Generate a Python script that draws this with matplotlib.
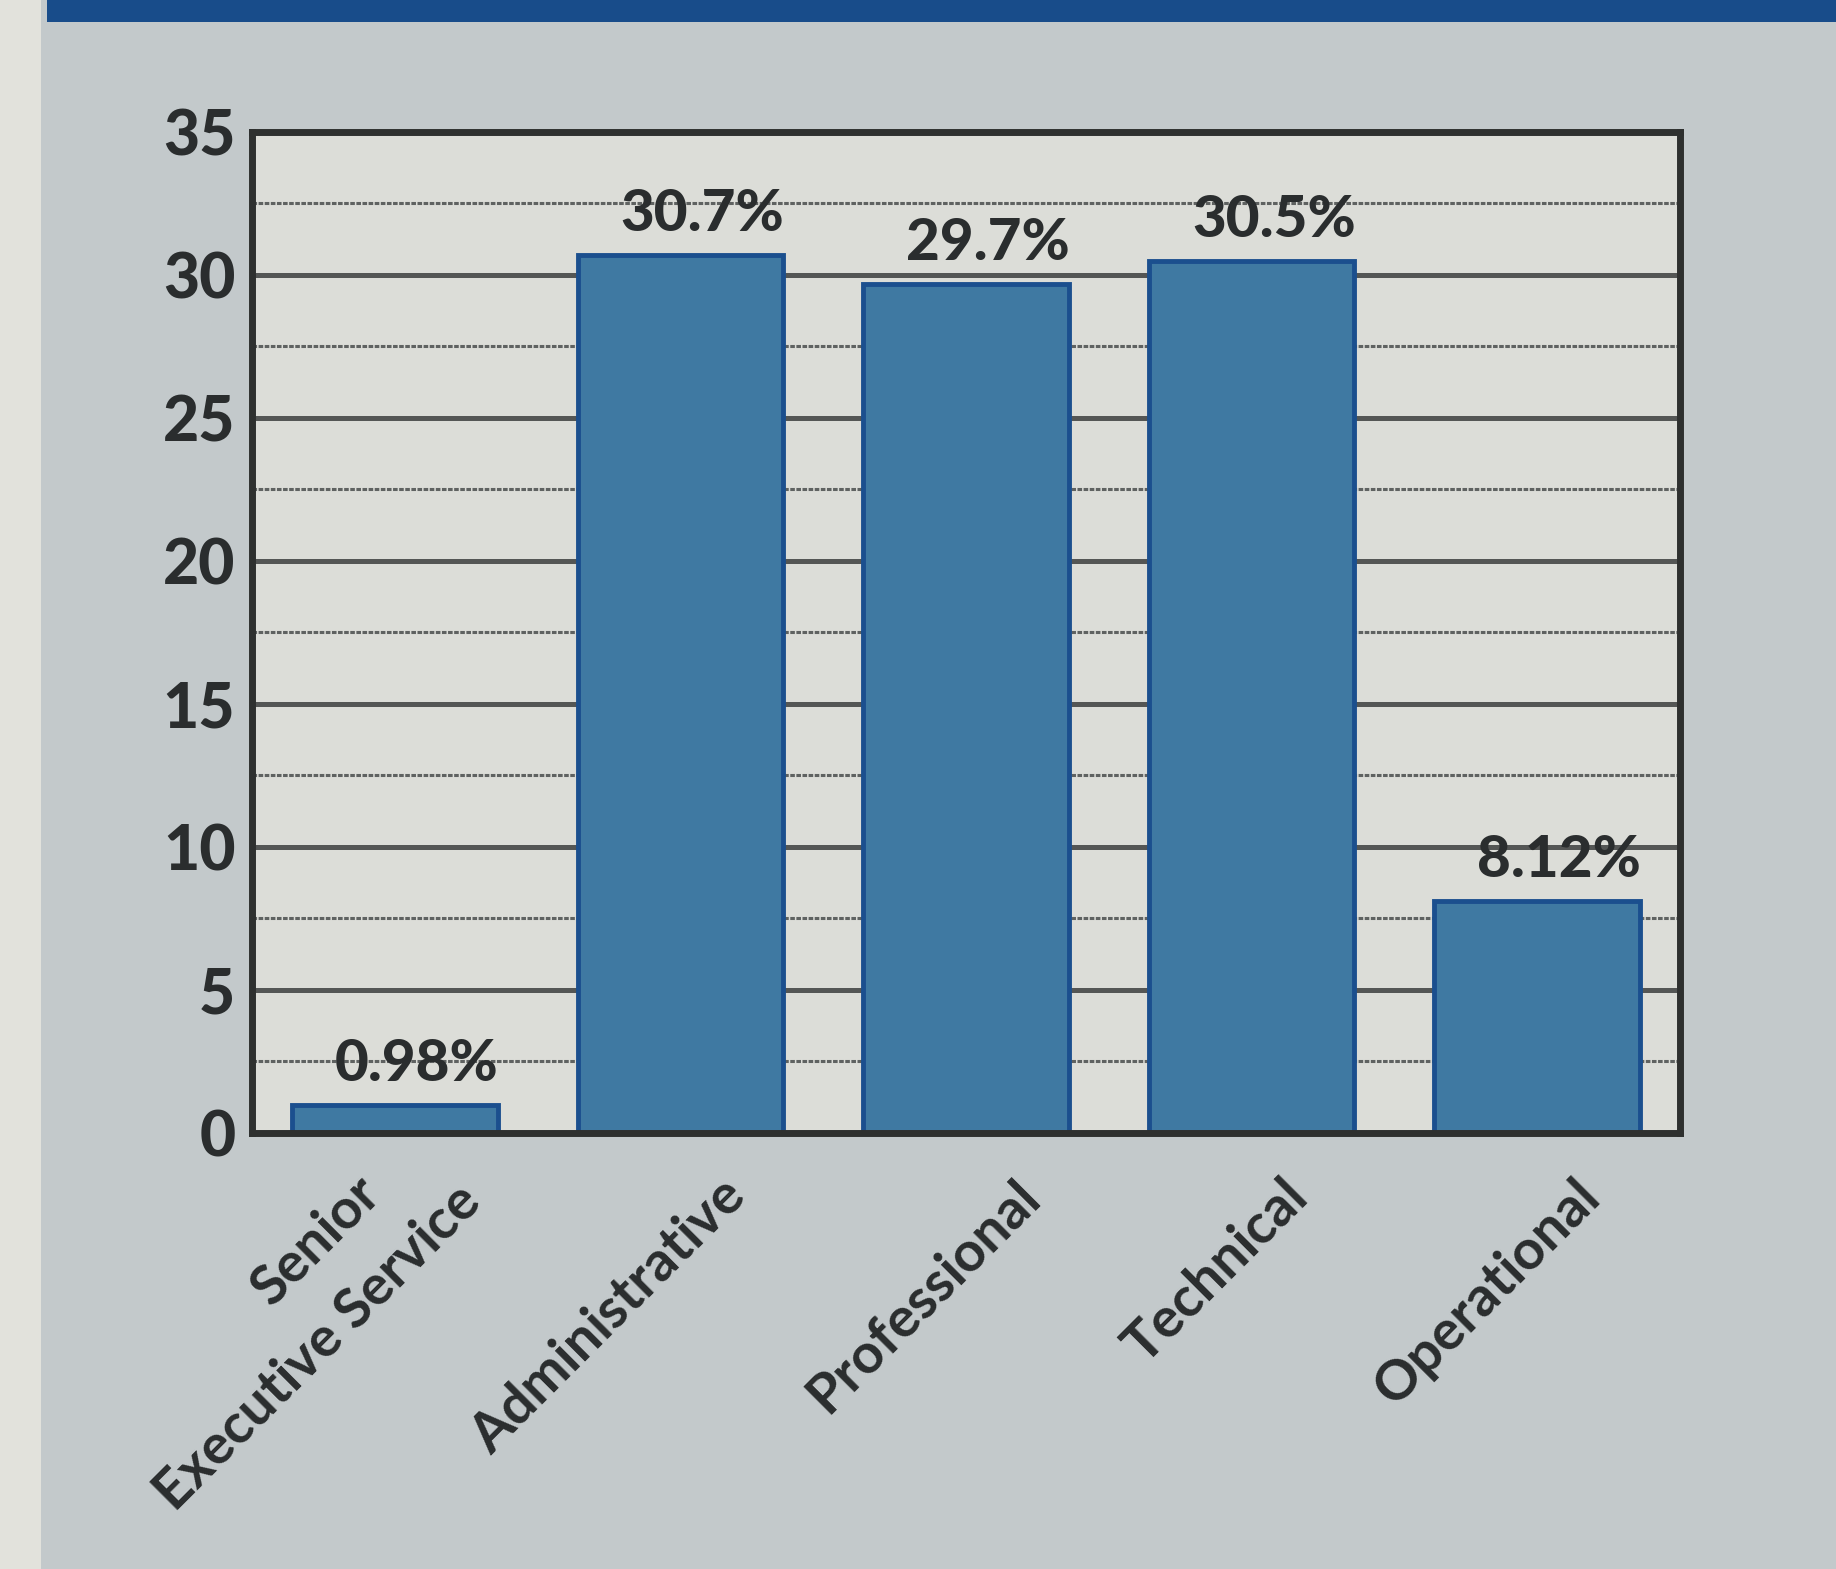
import matplotlib
matplotlib.use("Agg")
import matplotlib.pyplot as plt
from matplotlib.patches import Rectangle
import matplotlib.transforms as mtransforms

categories = ["Senior\nExecutive Service", "Administrative", "Professional", "Technical", "Operational"]
values = [0.98, 30.7, 29.7, 30.5, 8.12]
value_labels = ["0.98%", "30.7%", "29.7%", "30.5%", "8.12%"]
yticks = [0, 5, 10, 15, 20, 25, 30, 35]

FIG_BG = "#c3c9cb"
AX_BG = "#dcddd8"
BAR = "#3f79a2"
EDGE = "#1b4f8e"
TXT = "#2a2d2e"
FONT = ["Lato", "DejaVu Sans"]

fig = plt.figure(figsize=(18.36, 15.69), dpi=100, facecolor=FIG_BG)
fig.patches.append(Rectangle((0.0256, 0.986), 1.0, 0.014, transform=fig.transFigure,
                             facecolor="#184c8a", edgecolor="none", zorder=0))
fig.patches.append(Rectangle((0.0, 0.0), 0.0225, 1.0, transform=fig.transFigure,
                             facecolor="#e2e2dc", edgecolor="none", zorder=0))

ax = fig.add_axes([0.1373, 0.2779, 0.7777, 0.638])
ax.set_facecolor(AX_BG)
x = list(range(len(categories)))
ax.bar(x, values, width=0.72, color=BAR, edgecolor=EDGE, linewidth=3.5, zorder=3)

ax.set_xlim(-0.5, 4.5)
ax.set_ylim(0, 35)
ax.set_yticks(yticks)
ax.set_yticklabels([str(t) for t in yticks], fontsize=45, fontweight="black",
                   color=TXT, family=FONT)
ax.set_yticks([t + 2.5 for t in yticks[:-1]], minor=True)
ax.tick_params(axis="y", which="both", length=0, pad=12)
ax.set_xticks([])
ax.grid(axis="y", which="major", color="#545655", linewidth=3.6,
        linestyle="-", zorder=1)
ax.grid(axis="y", which="minor", color="#5f6261", linewidth=2.2,
        linestyle=(0, (1.5, 0.5)), zorder=1)
for s in ax.spines.values():
    s.set_linewidth(5)
    s.set_color("#2e302f")
    s.set_zorder(5)

for xi, v, lab in zip(x, values, value_labels):
    ax.annotate(lab, (xi, v), xytext=(16, 10), textcoords="offset points",
                ha="center", va="bottom", fontsize=42, fontweight="black",
                color=TXT, family=FONT, zorder=6)

# rotated category labels, anchored at the right end of each line
base = mtransforms.blended_transform_factory(ax.transData, ax.transAxes)
single_dx = {1: 0.2, 2: 0.23, 3: 0.165, 4: 0.19}
multi_dx = [-0.08, 0.27]
multi_dy = [-0.052, -0.06]
for xi, cat in zip(x, categories):
    lines = cat.split("\n")
    if len(lines) > 1:
        for j, line in enumerate(lines):
            ax.text(xi + multi_dx[j], multi_dy[j], line, transform=base, rotation=45,
                    rotation_mode="anchor", ha="right", va="center", fontsize=40,
                    fontweight="bold", color=TXT, family=FONT)
    else:
        ax.text(xi + single_dx[xi], -0.055, cat, transform=base, rotation=45,
                rotation_mode="anchor", ha="right", va="center", fontsize=40,
                fontweight="bold", color=TXT, family=FONT)

fig.savefig("out.png", dpi=100, facecolor=FIG_BG)
